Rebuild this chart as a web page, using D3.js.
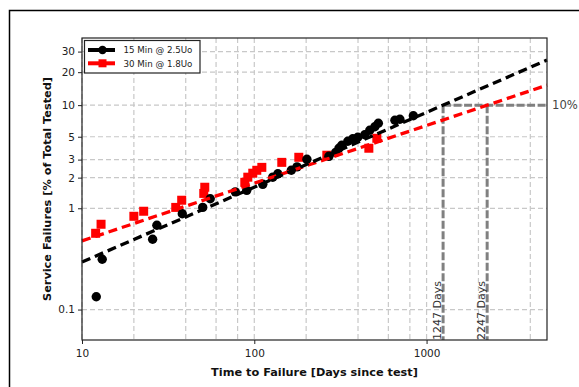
<!DOCTYPE html>
<html>
<head>
<meta charset="utf-8">
<script src="https://cdn.jsdelivr.net/npm/d3@7"></script>
<style>
  body { margin: 0; background: #fff; }
  svg { display: block; font-family: "DejaVu Sans", sans-serif; }
</style>
</head>
<body>
<svg width="579" height="387"></svg>
<script>
// days since test / % failed
const blackDays = [12.1, 13.1, 25.7, 27.2, 38.2, 50.2, 55.5, 77.6, 90.4, 112, 128, 137, 164, 177, 202,
  271, 297, 310, 322, 349, 373, 399, 438, 468, 501, 525, 655, 700, 838];
const blackPct = [0.134, 0.314, 0.495, 0.68, 0.883, 1.02, 1.24, 1.45, 1.5, 1.72, 2.02, 2.18, 2.36, 2.55, 3.02,
  3.23, 3.53, 3.87, 4.13, 4.52, 4.78, 4.94, 5.22, 5.77, 6.23, 6.73, 7.19, 7.35, 7.94];

const redDays = [12.0, 12.9, 20.0, 22.8, 35.0, 37.9, 50.9, 51.6, 88.1, 91.7, 98.0, 103.4, 110.6, 144.4, 181.3,
  263.6, 462.3, 514.4];
const redPct = [0.567, 0.696, 0.834, 0.935, 1.02, 1.2, 1.4, 1.61, 1.8, 2.02, 2.21, 2.36, 2.52, 2.82, 3.16,
  3.31, 3.87, 4.83];

// fitted lines, ends at 10 and 5000 days
const fitDays = [10, 5000];
const blackFit = [0.295, 25.5];
const redFit = [0.477, 15.3];

// 10% crossing
const crossPct = 10;
const crossDays = [1247, 2247];

const seriesNames = ["15 Min @ 2.5Uo", "30 Min @ 1.8Uo"];
const xTicks = [10, 100, 1000];
const xGrid = [10, 20, 40, 60, 80, 100, 200, 400, 600, 800, 1000, 2000, 4000];
const yTicks = [0.1, 1, 2, 3, 5, 10, 20, 30];

const W = 579, H = 387;
const margin = {top: 38, right: 32, bottom: 47, left: 82};
const width = W - margin.left - margin.right;
const height = H - margin.top - margin.bottom;

// weibull probability axis
const weib = p => Math.log(-Math.log(1 - p / 100));

const svg = d3.select('svg');

svg.append('rect')
  .attr('x', 9.5).attr('y', 10.5)
  .attr('width', 620).attr('height', 420)
  .attr('fill', 'none')
  .attr('stroke', '#000')
  .attr('stroke-width', 1.5);

const g = svg.append('g')
  .attr('transform', 'translate(' + margin.left + ',' + margin.top + ')');

const x = d3.scaleLog().domain([10, 5000]).range([0, width]);
const y = d3.scaleLinear().domain([weib(0.05), weib(38.5)]).range([height, 0]);

// grid
g.selectAll('.vgrid')
  .data(xGrid)
  .enter()
  .append('line')
  .attr('x1', d => x(d)).attr('x2', d => x(d))
  .attr('y1', 0).attr('y2', height)
  .attr('stroke', '#c8c8c8')
  .attr('stroke-width', 1.2)
  .attr('stroke-dasharray', '5,3');

g.selectAll('.hgrid')
  .data(yTicks)
  .enter()
  .append('line')
  .attr('x1', 0).attr('x2', width)
  .attr('y1', d => y(weib(d))).attr('y2', d => y(weib(d)))
  .attr('stroke', '#c8c8c8')
  .attr('stroke-width', 1.2)
  .attr('stroke-dasharray', '5,3');

// axes
const xAxis = d3.axisBottom(x)
  .tickValues(xTicks)
  .tickSize(4)
  .tickPadding(6)
  .tickFormat(d3.format('d'));
const yAxis = d3.axisLeft(y)
  .tickValues(yTicks.map(weib))
  .tickSize(4)
  .tickPadding(3)
  .tickFormat((d, i) => yTicks[i]);

const gx = g.append('g')
  .attr('transform', 'translate(0,' + height + ')')
  .call(xAxis);
const gy = g.append('g').call(yAxis);

[gx, gy].forEach(a => {
  a.select('.domain').remove();
  a.selectAll('text')
    .attr('fill', '#222')
    .style('font-size', '10.5px')
    .style('font-family', '"DejaVu Sans", sans-serif');
  a.selectAll('line').attr('stroke', '#222');
});

// 10% guides
const guide = d3.line().x(d => x(d[0])).y(d => y(weib(d[1])));
g.append('path')
  .attr('d', guide([[crossDays[0], crossPct], [5000, crossPct]]))
  .attr('fill', 'none')
  .attr('stroke', '#808080')
  .attr('stroke-width', 3)
  .attr('stroke-dasharray', '8,2.5');

crossDays.forEach(d => {
  g.append('line')
    .attr('x1', x(d)).attr('x2', x(d))
    .attr('y1', y(weib(crossPct))).attr('y2', height)
    .attr('stroke', '#808080')
    .attr('stroke-width', 3)
    .attr('stroke-dasharray', '8,2.5');
  g.append('text')
    .attr('transform', 'translate(' + (x(d) - 2) + ',' + height + ') rotate(-90)')
    .attr('fill', '#333')
    .style('font-size', '11px')
    .text(d + ' Days');
});

g.append('text')
  .attr('x', width + 5)
  .attr('y', y(weib(crossPct)) + 4)
  .attr('fill', '#444')
  .style('font-size', '11.6px')
  .text(crossPct + '%');

// points
g.selectAll('.red')
  .data(d3.zip(redDays, redPct))
  .enter()
  .append('rect')
  .attr('x', d => x(d[0]) - 4.5)
  .attr('y', d => y(weib(d[1])) - 4.5)
  .attr('width', 9).attr('height', 9)
  .attr('fill', '#ff0000');

g.selectAll('.black')
  .data(d3.zip(blackDays, blackPct))
  .enter()
  .append('circle')
  .attr('cx', d => x(d[0]))
  .attr('cy', d => y(weib(d[1])))
  .attr('r', 4.7)
  .attr('fill', '#000');

// fits
g.append('path')
  .attr('d', guide(d3.zip(fitDays, redFit)))
  .attr('fill', 'none')
  .attr('stroke', '#ff0000')
  .attr('stroke-width', 3.3)
  .attr('stroke-dasharray', '9,5');
g.append('path')
  .attr('d', guide(d3.zip(fitDays, blackFit)))
  .attr('fill', 'none')
  .attr('stroke', '#000')
  .attr('stroke-width', 3.3)
  .attr('stroke-dasharray', '9,5');

// frame
g.append('rect')
  .attr('width', width).attr('height', height)
  .attr('fill', 'none')
  .attr('stroke', '#222')
  .attr('stroke-width', 1.2);

// axis titles
svg.append('text')
  .attr('x', margin.left + width / 2)
  .attr('y', 376)
  .attr('text-anchor', 'middle')
  .attr('font-weight', 'bold')
  .attr('fill', '#111')
  .style('font-size', '11.3px')
  .text('Time to Failure [Days since test]');

svg.append('text')
  .attr('transform', 'translate(51,' + (margin.top + height / 2) + ') rotate(-90)')
  .attr('text-anchor', 'middle')
  .attr('font-weight', 'bold')
  .attr('fill', '#111')
  .style('font-size', '11.3px')
  .text('Service Failures [% of Total Tested]');

// legend
const lg = svg.append('g').attr('transform', 'translate(84.5,40.5)');
lg.append('rect')
  .attr('width', 115.5).attr('height', 32.5)
  .attr('fill', '#fff')
  .attr('stroke', '#222')
  .attr('stroke-width', 1.2);

const colors = ['#000', '#ff0000'];
seriesNames.forEach((name, i) => {
  const ly = 9.5 + i * 13.3;
  lg.append('line')
    .attr('x1', 3.5).attr('x2', 30.5)
    .attr('y1', ly).attr('y2', ly)
    .attr('stroke', colors[i])
    .attr('stroke-width', 4);
  if (i === 0) {
    lg.append('circle').attr('cx', 18).attr('cy', ly).attr('r', 4.2).attr('fill', colors[i]);
  } else {
    lg.append('rect').attr('x', 14).attr('y', ly - 4).attr('width', 8).attr('height', 8).attr('fill', colors[i]);
  }
  lg.append('text')
    .attr('x', 39)
    .attr('y', ly + 3.2)
    .attr('fill', '#222')
    .style('font-size', '8.7px')
    .text(name);
});
</script>
</body>
</html>
